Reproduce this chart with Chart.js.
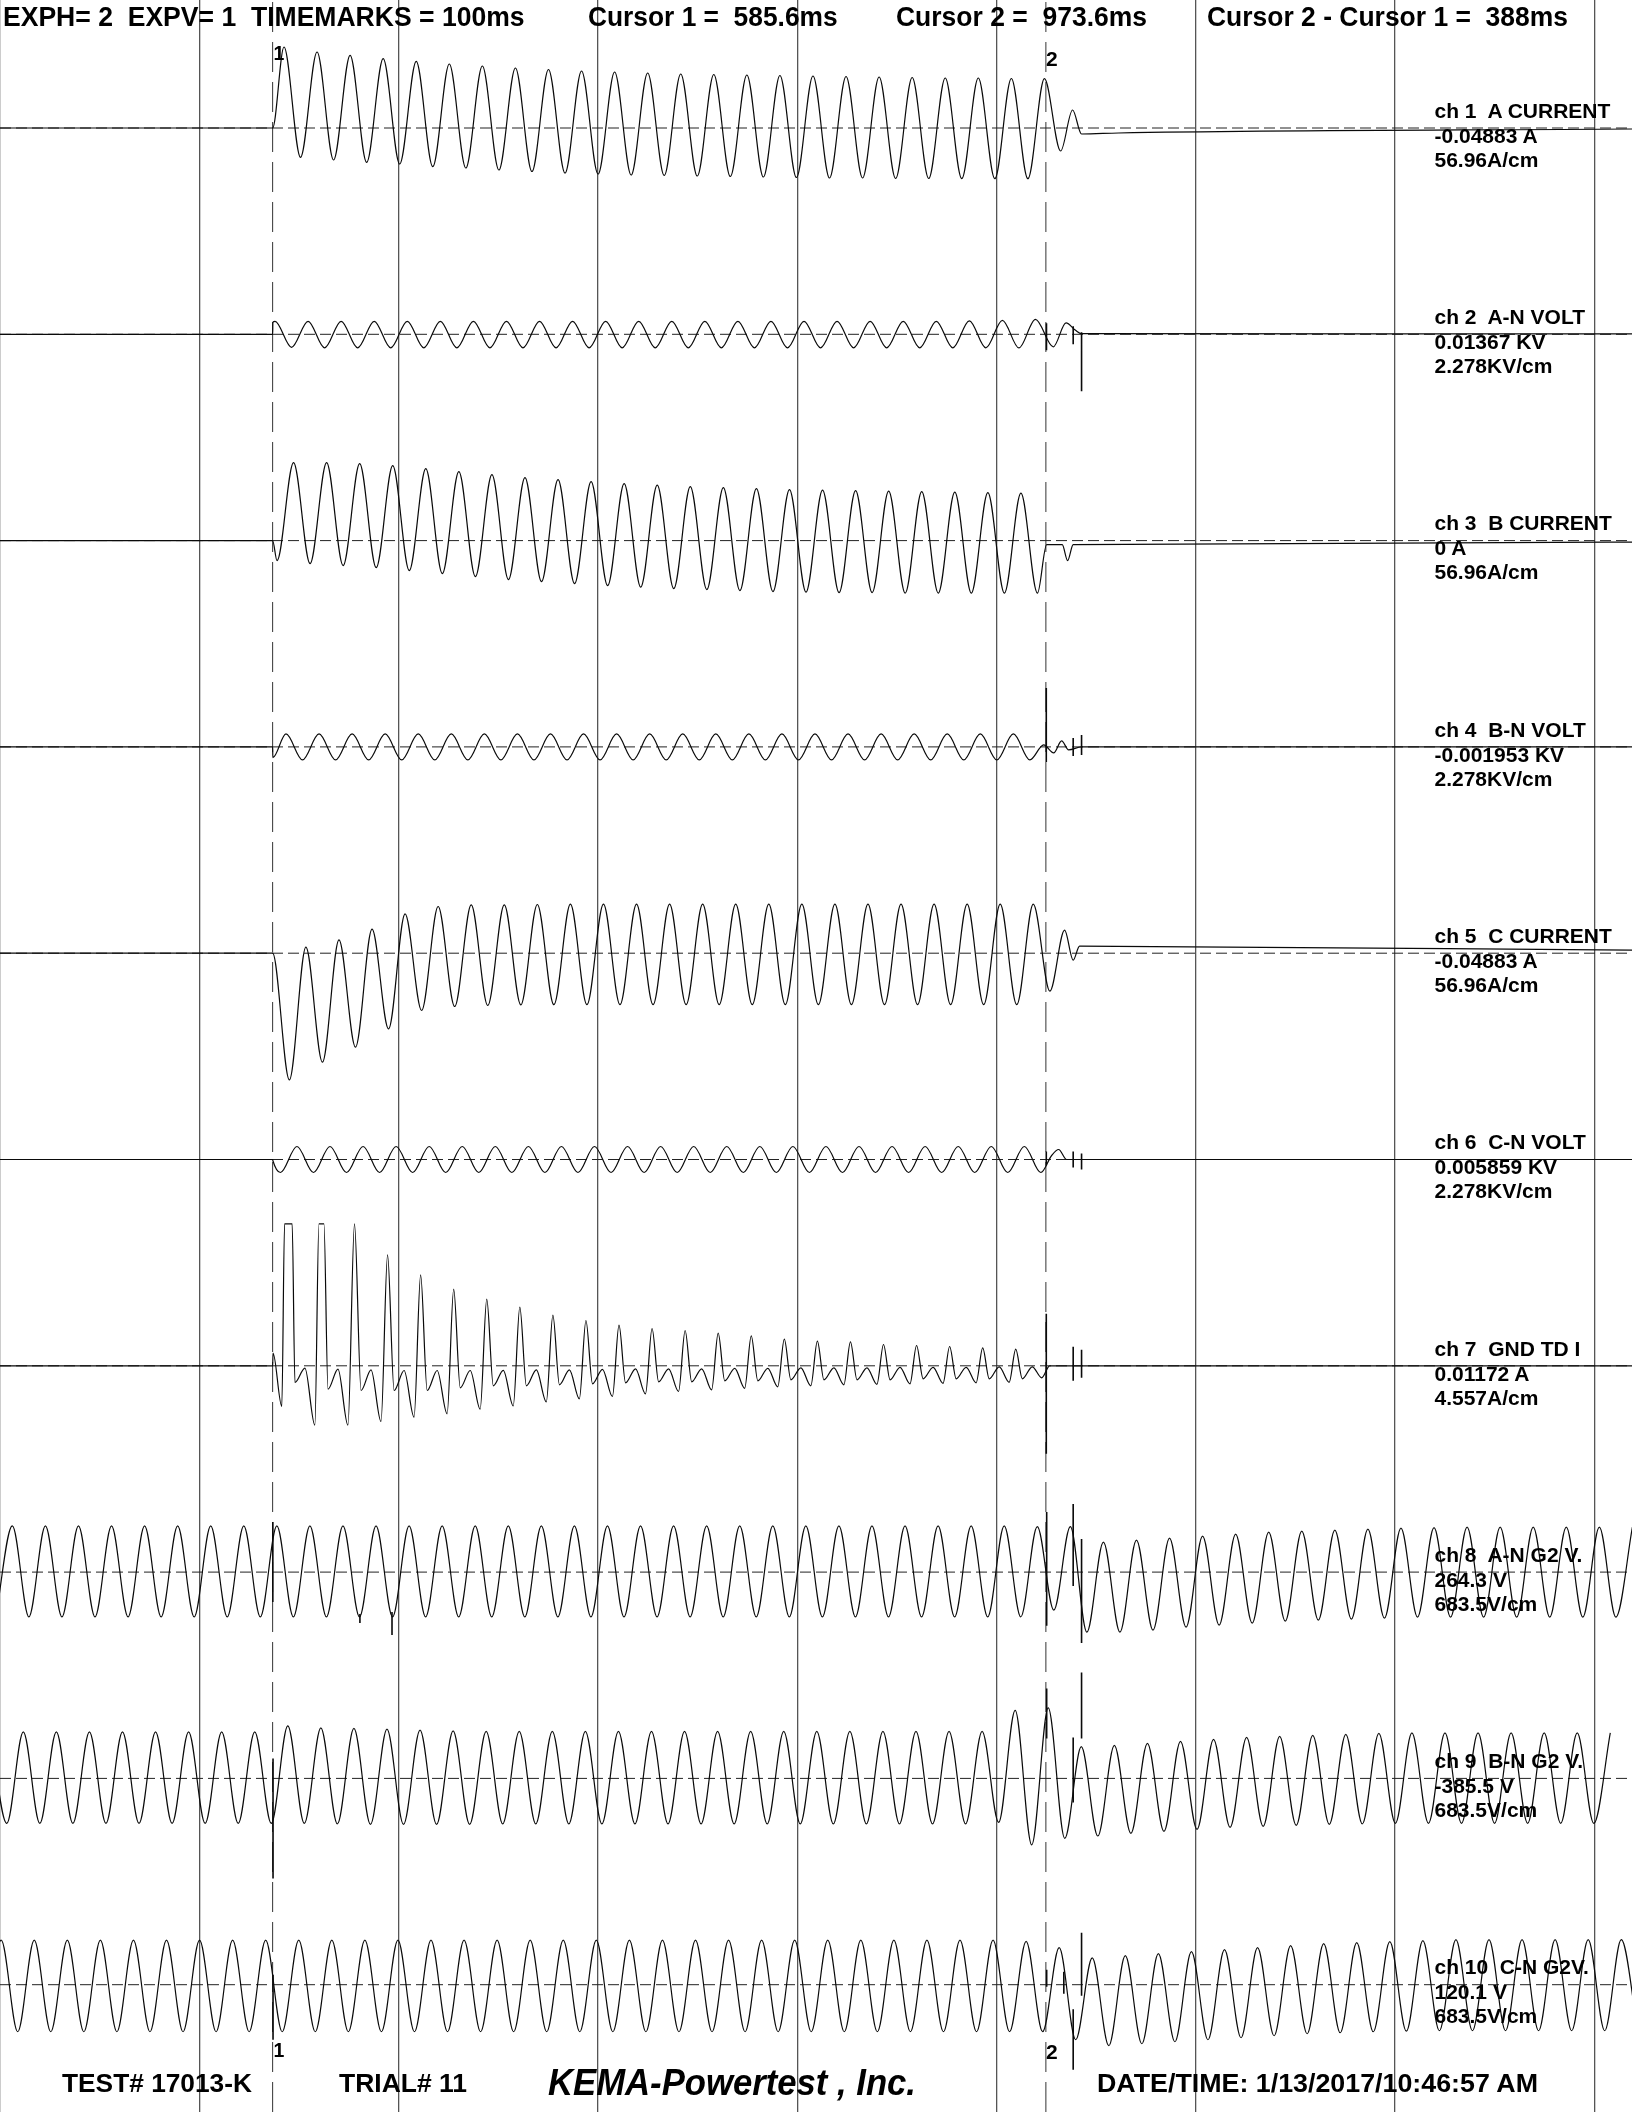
<!DOCTYPE html>
<html>
<head>
<meta charset="utf-8">
<script src="https://cdn.jsdelivr.net/npm/chart.js@4.4.1/dist/chart.umd.min.js"></script>
<style>
  html, body { margin: 0; padding: 0; background: #fff; }
  #wrap { position: relative; width: 1632px; height: 2112px; overflow: hidden; }
  #osc { position: absolute; left: 0; top: 0; }
  .t { position: absolute; line-height: 1; white-space: pre; color: #000;
       font-family: "Liberation Sans", Arial, sans-serif; font-weight: bold; transform-origin: 0 0; }
</style>
</head>
<body>
<div id="wrap"><canvas id="osc" width="1632" height="2112"></canvas></div>
<script>
// time axis (ms) and markers
const tStart = 448.8, tEnd = 1267.7;
const timemarks = [448.8, 548.8, 648.8, 748.8, 848.8, 948.8, 1048.8, 1148.8, 1248.8];
const cursor1 = 585.6, cursor2 = 973.6;
const halfCycle = 8.295; // ms between a crest and the next trough

const channelNames = ["ch 1  A CURRENT", "ch 2  A-N VOLT", "ch 3  B CURRENT", "ch 4  B-N VOLT", "ch 5  C CURRENT",
  "ch 6  C-N VOLT", "ch 7  GND TD I", "ch 8  A-N G2 V.", "ch 9  B-N G2 V.", "ch 10  C-N G2V."];
const channelReadings = ["-0.04883 A", "0.01367 KV", "0 A", "-0.001953 KV", "-0.04883 A",
  "0.005859 KV", "0.01172 A", "264.3 V", "-385.5 V", "120.1 V"];
const channelScales = ["56.96A/cm", "2.278KV/cm", "56.96A/cm", "2.278KV/cm", "56.96A/cm",
  "2.278KV/cm", "4.557A/cm", "683.5V/cm", "683.5V/cm", "683.5V/cm"];

// trace deflections read from the record, alternating crest / trough
const ch1Lead = [[tStart, 0], [585.6, 0]];
const ch1First = 591.3;
const ch1Swing = [81, -29.3, 76, -32, 72.7, -34.3, 69.3, -36, 66.7, -38.7, 64, -40, 62, -42, 60, -43.5,
  58.5, -45, 57, -46, 56, -47, 55, -47.5, 54, -48, 53.5, -48.5, 53, -49, 52.5, -49.5, 52, -50, 51.5, -50,
  51, -50.5, 50.5, -50.5, 50, -50.7, 50, -50.7, 49.5, -50.7, 49.3];
const ch1Tail = [[981.0, -23], [987.0, 18], [991.5, -6], [1010, -5], [tEnd, -1]];

const ch2Lead = [[tStart, 0], [585.6, 0], [585.7, 12]];
const ch2First = 586.8;
const ch2Swing = [13, -13, 13, -13.5, 13, -13.5, 13, -13.5, 13, -13.5, 13, -13.5, 13, -13.5, 13, -13.5,
  13, -13.5, 13, -13.5, 13, -13.5, 13, -13.5, 13, -13.5, 13, -13.5, 13, -13.5, 13, -13.5, 13, -13.5,
  13, -13.5, 13, -13.5, 13, -13.5, 13, -13.5, 13.5, -13.5, 14, -13.6, 15];
const ch2Tail = [[977.3, -12.5], [983.7, 11.4], [988.5, 4], [991.4, 0.7], [tEnd, 0.5]];
const ch2Spikes = [[973.9, 11, -16], [987.3, 8, -10], [991.5, 2, -57]];

const ch3Lead = [[tStart, 0], [585.6, 0]];
const ch3First = 587.8;
const ch3Swing = [-20, 78, -23, 78, -25, 77, -27, 75, -30, 72, -33, 69, -36, 66, -39, 63, -41, 61, -43, 59,
  -45, 57, -46.5, 55.5, -48, 54, -49, 53, -50, 52, -51, 51, -51.5, 50.5, -52, 50, -52, 49.5, -52.5, 49,
  -52.5, 48.5, -52.5, 48, -52.5, 47.5, -52.5];
const ch3Tail = [[974.0, -4], [981.8, -4], [984.5, -20], [987.3, -4], [tEnd, -1.5]];

const ch4Lead = [[tStart, 0], [585.6, 0], [585.7, -10.7]];
const ch4First = 592.3;
const ch4Swing = [13, -13, 13, -13, 13, -13, 13, -13, 13, -13, 13, -13, 13, -13, 13, -13, 13, -13, 13, -13,
  13, -13, 13, -13, 13, -13, 13, -13, 13, -13, 13, -13, 13, -13, 13, -13, 13, -13, 13, -13, 13, -13,
  13, -13, 13, -13];
const ch4Tail = [[972.5, 2], [977.5, -6], [981.5, 6], [985, -3], [991.5, 0], [tEnd, 0]];
const ch4Spikes = [[973.8, 59, -15], [987.3, 9, -9], [991.5, 12, -8]];

const ch5Lead = [[tStart, 0], [585.6, 0]];
const ch5First = 594.0;
const ch5Swing = [-126.7, 6, -109, 13.3, -94, 24, -75.7, 39.3, -57.3, 46.7, -53.3, 48.3, -52.3, 48.3, -51.7, 48.7,
  -51.5, 49, -51.5, 49, -51.5, 49, -51.5, 49, -51.5, 49, -51.5, 49, -51.5, 49, -51.5, 49, -51.5, 49,
  -51.5, 49, -51.5, 49, -51.5, 49, -51.5, 49, -51.5, 49, -51.5, 49];
const ch5Tail = [[975.6, -38], [983.0, 23], [987.3, -7], [990.5, 7], [tEnd, 3]];

const ch6Lead = [[tStart, 0], [585.6, 0], [585.7, -1]];
const ch6First = 589.5;
const ch6Swing = [-13, 13, -13, 13, -13, 13, -13, 13, -13, 13, -13, 13, -13, 13, -13, 13, -13, 13, -13, 13,
  -13, 13, -13, 13, -13, 13, -13, 13, -13, 13, -13, 13, -13, 13, -13, 13, -13, 13, -13, 13, -13, 13,
  -13, 13, -13, 13, -13];
const ch6Tail = [[976.5, 4], [980, 10], [984, 0], [991.5, 0], [tEnd, 0]];
const ch6Spikes = [[973.8, 8, -6], [987.3, 8, -8], [991.5, 6, -10]];

// ch 7: one pulse per cycle -> trough before, crest, dip after, plateau
const ch7Lead = [[tStart, 0], [585.6, 0], [585.8, 12.7]];
const ch7First = 593.5;
const ch7Crest = [142, 142, 142, 111, 91, 76.7, 66.7, 58.7, 50.7, 45.3, 40.7, 37.3, 35.3, 32.7, 30, 26.7,
  24.7, 24, 21.3, 20.3, 19.3, 18, 16.7];
const ch7Trough = [-40.7, -59.3, -59.3, -55.7, -51.3, -48, -43.3, -40, -36, -33, -30.7, -28, -25.7, -24,
  -22.5, -21, -20, -19, -18.5, -18, -17.5, -17, -16.5];
const ch7Dip = [-16.7, -23.3, -24.7, -24.7, -24.7, -22, -20, -20, -19, -18, -17, -16, -16, -15, -15, -14,
  -14, -14, -14, -13, -13, -13, -13];
const ch7Plateau = [-2.3, -3.3, -4, -4.7, -4.7, -4.7, -4.5, -4, -4, -3.5, -3, -3, -3, -2.5, -2.5, -2, -2,
  -2, -1.5, -1.5, -1.5, -1, -1];
const ch7Clipped = [3.8, 2.5]; // ms spent at full deflection
const ch7Tail = [[971.5, -12], [975.5, 0], [tEnd, 0]];
const ch7Spikes = [[973.8, 52, -88], [987.3, 19, -15], [991.5, 16, -12]];

const ch8First = 446.7;
const ch8Swing = [-44.7, 46.3, -44.7, 46.3, -44.7, 46.3, -44.7, 46.3, -44.7, 46.3, -44.7, 46.3, -44.7, 46.3,
  -44.7, 46.3, -44.7, 46.3, -44.7, 46.3, -44.7, 46.3, -44.7, 46.3, -44.7, 46.3, -44.7, 46.3, -44.7, 46.3,
  -44.7, 46.3, -44.7, 46.3, -44.7, 46.3, -44.7, 46.3, -44.7, 46.3, -44.7, 46.3, -44.7, 46.3, -44.7, 46.3,
  -44.7, 46.3, -44.7, 46.3, -44.7, 46.3, -44.7, 46.3, -44.7, 46.3, -44.7, 46.3, -44.7, 46.3, -44.7, 46.3,
  -44.7, 45.5, -38, 45.5, -60, 30, -60, 32, -58, 34, -55, 36, -53, 38, -51, 40, -49, 41, -48, 42, -47, 43,
  -46, 44, -45, 44.5, -45, 45, -45, 45, -45, 45, -45, 45, -45, 45, -45, 45];
const ch8Spikes = [[585.7, 50, -30], [629.4, -42, -51], [645.5, -40, -63], [974.0, 60, -53.6],
  [987.3, 68, -14], [991.5, 33, -71]];

const ch9First = 443.9;
const ch9Swing = [46.6, -45, 46.6, -45, 46.6, -45, 46.6, -45, 46.6, -45, 46.6, -45, 46.6, -45, 46.6, -45,
  46.6, -45, 52.6, -45, 50.6, -45.5, 50, -46, 49.3, -46, 48.3, -46, 47.5, -46,
  47, -45.5, 47, -45.5, 47, -45.5, 47, -45.5, 47, -45.5, 47, -45.5, 47, -45.5, 47, -45.5, 47, -45.5,
  47, -45.5, 47, -45.5, 47, -45.5, 47, -45.5, 47, -45.5, 47, -45.5, 47,
  -44, 68, -66.5, 70.5, -60, 31.7, -57.6, 33, -55, 35, -53, 37, -51, 39, -49, 41, -48, 42, -47, 43, -46, 44,
  -45.5, 45, -45, 45.5, -45, 45.5, -45, 45.5, -45, 45.5, -45, 45.5, -45, 45.5, -45, 45.5];
const ch9Spikes = [[585.8, 20, -100], [974.0, 90, 40], [987.3, 41, -24], [991.5, 106, 40]];

const ch10First = 441.1;
const ch10Swing = [-47, 44.5, -47, 44.5, -47, 44.5, -47, 44.5, -47, 44.5, -47, 44.5, -47, 44.5, -47, 44.5,
  -47, 44.5, -47, 44.5, -47, 44.5, -47, 44.5, -47, 44.5, -47, 44.5, -47, 44.5, -47, 44.5,
  -47, 44.5, -47, 44.5, -47, 44.5, -47, 44.5, -47, 44.5, -47, 44.5, -47, 44.5, -47, 44.5,
  -47, 44.5, -47, 44.5, -47, 44.5, -47, 44.5, -47, 44.5, -47, 44.5, -47, 44.5, -47, 43.3,
  -47, 37, -55, 26.8, -61, 29, -59, 31, -57, 33, -55, 35, -53, 37, -51, 39, -49, 41, -48, 42, -47, 43,
  -46.5, 44, -46, 45, -46, 45, -46, 45, -46, 45, -46, 45, -46, 45, -46];
const ch10Spikes = [[585.8, 10, -55], [974.0, 15, -2], [982.6, 13, -9], [987.3, -24.5, -85], [991.5, 52, -11]];

// ---------------------------------------------------------------
const firstRow = 128, rowGap = 206.3; // px from top of the record
function base(i) { return -(firstRow + rowGap * i); }
function pairs(i, list) { return list.map(p => ({ x: p[0], y: base(i) + p[1] })); }
function swing(i, t0, vals) { return vals.map((v, k) => ({ x: t0 + k * halfCycle, y: base(i) + v })); }
function spikes(i, list) {
  const out = [];
  list.forEach(s => { out.push({ x: s[0], y: base(i) + s[1] }, { x: s[0], y: base(i) + s[2] }, { x: s[0], y: null }); });
  return out;
}

const ch7Pts = ch7Lead.slice();
ch7Crest.forEach((c, k) => {
  const ts = ch7First + k * 2 * halfCycle;
  ch7Pts.push([ts - 3.3, ch7Trough[k]]);
  const w = ch7Clipped[k] || 0;
  if (w) ch7Pts.push([ts - w / 2, c], [ts + w / 2, c]);
  else ch7Pts.push([ts, c]);
  ch7Pts.push([ts + 3.3, ch7Dip[k]], [ts + 8.3, ch7Plateau[k]]);
});
ch7Tail.forEach(p => ch7Pts.push(p));

const traces = [
  pairs(0, ch1Lead).concat(swing(0, ch1First, ch1Swing), pairs(0, ch1Tail)),
  pairs(1, ch2Lead).concat(swing(1, ch2First, ch2Swing), pairs(1, ch2Tail)),
  pairs(2, ch3Lead).concat(swing(2, ch3First, ch3Swing), pairs(2, ch3Tail)),
  pairs(3, ch4Lead).concat(swing(3, ch4First, ch4Swing), pairs(3, ch4Tail)),
  pairs(4, ch5Lead).concat(swing(4, ch5First, ch5Swing), pairs(4, ch5Tail)),
  pairs(5, ch6Lead).concat(swing(5, ch6First, ch6Swing), pairs(5, ch6Tail)),
  pairs(6, ch7Pts),
  swing(7, ch8First, ch8Swing),
  swing(8, ch9First, ch9Swing),
  swing(9, ch10First, ch10Swing)
];
const spikePts = [].concat(spikes(1, ch2Spikes), spikes(3, ch4Spikes), spikes(5, ch6Spikes),
  spikes(6, ch7Spikes), spikes(7, ch8Spikes), spikes(8, ch9Spikes), spikes(9, ch10Spikes));

const zeroLines = [];
for (let i = 0; i < 10; i++) {
  zeroLines.push({ x: tStart, y: base(i) }, { x: tEnd, y: base(i) }, { x: tEnd, y: null });
}
const cursorLines = [
  { x: cursor1, y: -2112 }, { x: cursor1, y: 0 }, { x: cursor1, y: null },
  { x: cursor2, y: -2112 }, { x: cursor2, y: 0 }
];

const datasets = traces.map(d => ({
  data: d, borderColor: '#0a0a0a', borderWidth: 1.2, pointRadius: 0,
  cubicInterpolationMode: 'monotone', order: 0
}));
datasets.push({ data: spikePts, borderColor: '#0a0a0a', borderWidth: 1.6, pointRadius: 0, tension: 0, order: 1 });
datasets.push({ data: zeroLines, borderColor: '#222', borderWidth: 1, borderDash: [11, 5], pointRadius: 0, tension: 0, order: 2 });
datasets.push({ data: cursorLines, borderColor: '#333', borderWidth: 1, borderDash: [30, 10], pointRadius: 0, tension: 0, order: 2 });

new Chart(document.getElementById('osc'), {
  type: 'line',
  data: { datasets: datasets },
  options: {
    responsive: false,
    animation: false,
    devicePixelRatio: 1,
    events: [],
    layout: { padding: 0 },
    plugins: { legend: { display: false }, tooltip: { enabled: false } },
    scales: {
      x: {
        type: 'linear', min: tStart, max: tEnd,
        afterBuildTicks: s => { s.ticks = timemarks.map(v => ({ value: v })); },
        ticks: { display: false },
        grid: { color: '#555', lineWidth: 1.3, drawTicks: false },
        border: { display: false }
      },
      y: { type: 'linear', min: -2112, max: 0, display: false }
    }
  }
});

// text of the record
const wrap = document.getElementById('wrap');
function addText(str, x, baseline, size, width, italic) {
  const d = document.createElement('div');
  d.className = 't';
  d.textContent = str;
  d.style.fontSize = size + 'px';
  d.style.left = x + 'px';
  d.style.top = (baseline - 0.8465 * size) + 'px';
  if (italic) d.style.fontStyle = 'italic';
  wrap.appendChild(d);
  if (width) {
    const w = d.getBoundingClientRect().width;
    d.style.transform = 'scaleX(' + (width / w) + ')';
  }
}

addText("EXPH= 2  EXPV= 1  TIMEMARKS = 100ms", 3, 26.5, 27, 521.6);
addText("Cursor 1 =  585.6ms", 588.4, 26.5, 27, 249.6);
addText("Cursor 2 =  973.6ms", 895.7, 26.5, 27, 251);
addText("Cursor 2 - Cursor 1 =  388ms", 1206.9, 26.5, 27, 361);

addText("1", 273.5, 60.5, 19.5);
addText("2", 1046, 66, 21);
addText("1", 273.5, 2058, 19.5);
addText("2", 1046, 2059, 21);

for (let i = 0; i < 10; i++) {
  const b = firstRow + rowGap * i;
  addText(channelNames[i], 1434.5, b - 10.5, 21);
  addText(channelReadings[i], 1434.5, b + 14.5, 21);
  addText(channelScales[i], 1434.5, b + 38.5, 21);
}

addText("TEST# 17013-K", 62, 2092, 26, 190);
addText("TRIAL# 11", 339, 2092, 26, 128);
addText("KEMA-Powertest , Inc.", 548, 2095, 37, 368, true);
addText("DATE/TIME: 1/13/2017/10:46:57 AM", 1097, 2092, 26, 441);
</script>
</body>
</html>
